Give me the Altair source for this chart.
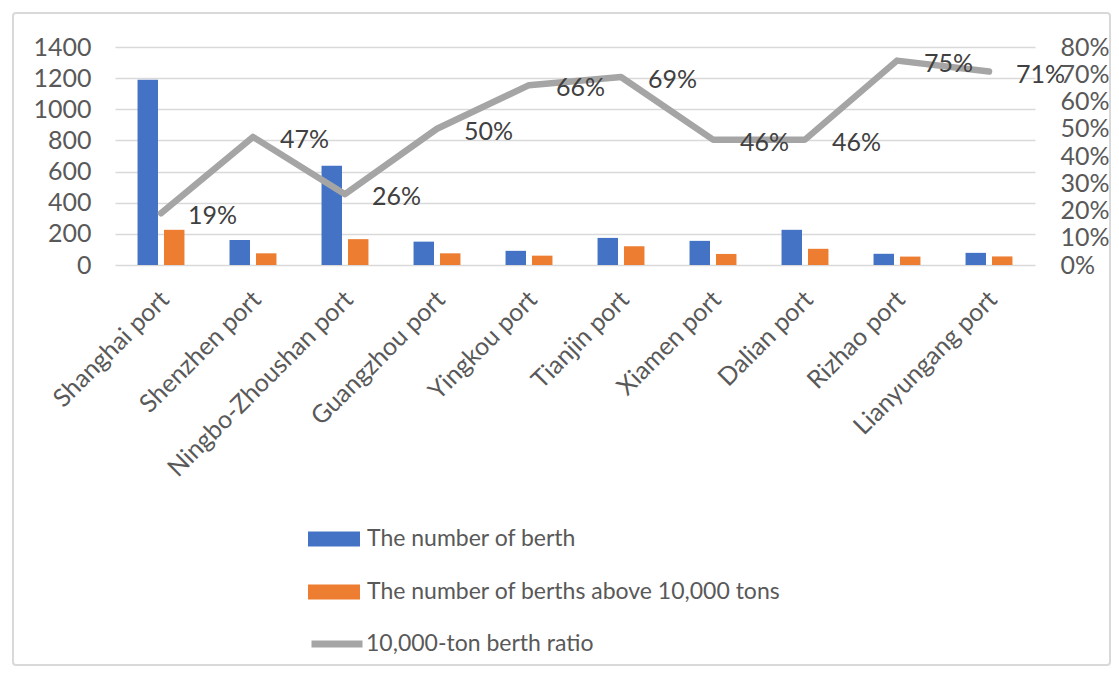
import altair as alt
import pandas as pd

# Ports and berth statistics
ports = [
    "Shanghai port", "Shenzhen port", "Ningbo-Zhoushan port", "Guangzhou port",
    "Yingkou port", "Tianjin port", "Xiamen port", "Dalian port",
    "Rizhao port", "Lianyungang port",
]
berths = [1190, 160, 638, 150, 91, 174, 155, 226, 72, 78]
berths_10k = [226, 75, 166, 75, 60, 120, 71, 104, 54, 55]
ratio = [0.19, 0.47, 0.26, 0.50, 0.66, 0.69, 0.46, 0.46, 0.75, 0.71]

S1 = "The number of berth"
S2 = "The number of berths above 10,000 tons"
S3 = "10,000-ton berth ratio"

left_ticks = [0, 200, 400, 600, 800, 1000, 1200, 1400]
right_ticks = [0, 0.1, 0.2, 0.3, 0.4, 0.5, 0.6, 0.7, 0.8]

FONT = "Lato"
LABEL = "#595959"
GRID = "#d9d9d9"

bar_df = pd.DataFrame({
    "port": ports * 2,
    "series": [S1] * len(ports) + [S2] * len(ports),
    "value": berths + berths_10k,
})
line_df = pd.DataFrame({"port": ports, "ratio": ratio, "series": [S3] * len(ports)})

x_enc = alt.X(
    "port:N", sort=ports, title=None,
    scale=alt.Scale(paddingInner=0.49, paddingOuter=0.245),
    axis=alt.Axis(labelAngle=-45, labelAlign="right", labelBaseline="middle",
                  labelPadding=30, labelOffset=4, labelFontSize=25, labelColor=LABEL,
                  labelLimit=400, ticks=False, domain=False, grid=False),
)

bars = alt.Chart(bar_df).mark_bar().encode(
    x=x_enc,
    xOffset=alt.XOffset("series:N", sort=[S1, S2],
                        scale=alt.Scale(paddingInner=0.226, paddingOuter=0)),
    y=alt.Y("value:Q", title=None, scale=alt.Scale(domain=[0, 1400], nice=False),
            axis=alt.Axis(orient="left", values=left_ticks, format="d", labelFontSize=25,
                          labelColor=LABEL, labelPadding=24, ticks=False,
                          domain=False, grid=True, gridColor=GRID, gridWidth=1.6)),
    color=alt.Color("series:N", scale=alt.Scale(domain=[S1, S2], range=["#4472C4", "#ED7D31"]),
                    legend=alt.Legend(title=None, orient="none", legendX=193, legendY=466,
                                      direction="vertical",
                                      symbolType="M-1,-0.29H1V0.29H-1Z", symbolSize=2704,
                                      symbolStrokeWidth=0, symbolOpacity=1,
                                      labelFontSize=23, labelColor=LABEL, labelOffset=7,
                                      labelLimit=600, rowPadding=15, padding=0)),
)

right_axis = alt.Axis(orient="right", values=right_ticks, format=".0%",
                      labelFontSize=25, labelColor=LABEL, labelPadding=25,
                      labelOverlap=False, labelBound=False, labelSeparation=0,
                      ticks=False, domain=False, grid=False)
right_scale = alt.Scale(domain=[0, 0.8], nice=False)

line = alt.Chart(line_df).mark_line(strokeWidth=6.5, strokeCap="round", strokeJoin="round").encode(
    x=alt.X("port:N", sort=ports),
    y=alt.Y("ratio:Q", title=None, scale=right_scale, axis=right_axis),
    stroke=alt.Stroke("series:N", scale=alt.Scale(domain=[S3], range=["#A5A5A5"]),
                      legend=alt.Legend(title=None, orient="none", legendX=193, legendY=568,
                                        symbolType="stroke", symbolSize=2601,
                                        symbolStrokeWidth=7, labelFontSize=23,
                                        labelColor=LABEL, labelOffset=0, labelLimit=600,
                                        padding=0)),
)

labels = alt.Chart(line_df).mark_text(
    align="left", baseline="middle", dx=27, dy=3, fontSize=25, color="#404040", font=FONT
).encode(
    x=alt.X("port:N", sort=ports),
    y=alt.Y("ratio:Q", title=None, scale=right_scale, axis=right_axis),
    text=alt.Text("ratio:Q", format=".0%"),
)

frame = alt.Chart(alt.Data(values=[{}])).mark_rect(
    fill=None, stroke=GRID, strokeWidth=2, cornerRadius=3
).encode(
    x=alt.value(-102), x2=alt.value(995), y=alt.value(-34), y2=alt.value(618)
)

chart = alt.layer(
    frame,
    bars,
    alt.layer(line, labels),
).resolve_scale(y="independent").properties(
    width=920, height=218,
    autosize=alt.AutoSizeParams(type="none"),
    padding={"left": 115, "top": 47, "right": 84, "bottom": 411},
).configure(font=FONT).configure_view(stroke=None).configure_axis(labelOverlap=False)

chart.save("out.html", embed_options={"renderer": "svg", "actions": False})
